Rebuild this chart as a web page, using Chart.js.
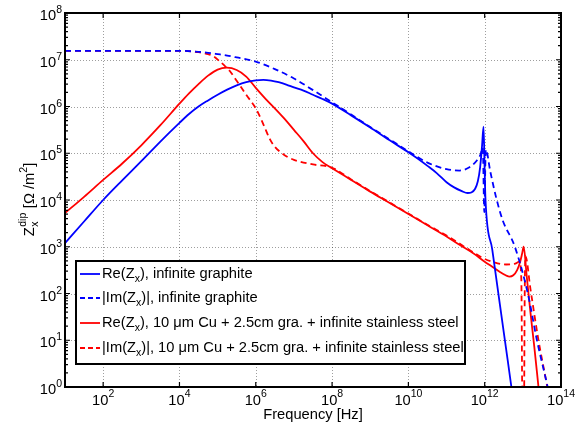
<!DOCTYPE html>
<html><head><meta charset="utf-8">
<script src="https://cdn.jsdelivr.net/npm/chart.js@4.4.1/dist/chart.umd.min.js"></script>
<style>html,body{margin:0;padding:0;background:#fff;}#wrap{width:577px;height:426px;}</style>
</head><body><div id="wrap"><canvas id="c" width="577" height="426"></canvas></div>
<script>
// ---- data (frequency in Hz, impedance in Ohm/m^2) ----
const reGraphiteF = [1e1,3.16e1,1e2,3.16e2,1e3,3.16e3,1e4,1.78e4,3.16e4,5.62e4,1e5,1.78e5,3.16e5,5.62e5,1e6,1.58e6,2.51e6,3.98e6,6.31e6,1e7,1.78e7,3.16e7,5.62e7,1e8,3.16e8,1e9,3.16e9,1e10,1.78e10,3.16e10,5.62e10,1e11,1.58e11,2.51e11,3.55e11,4.47e11,5.62e11,6.61e11,7.59e11,8.51e11,9.33e11,1e12,1.05e12,1.58e12,2.51e12,3.98e12,5.01e12,6.31e12];
const reGraphiteZ = [1.2e3,3.47e3,1e4,2.63e4,6.76e4,1.78e5,4.47e5,6.92e5,1e6,1.35e6,1.78e6,2.29e6,2.82e6,3.31e6,3.63e6,3.72e6,3.59e6,3.31e6,2.95e6,2.57e6,2.19e6,1.78e6,1.45e6,1.15e6,6.46e5,3.55e5,1.91e5,1.05e5,7.59e4,5.37e4,3.72e4,2.4e4,1.86e4,1.55e4,1.41e4,1.45e4,1.74e4,2.51e4,5.01e4,1.41e5,3.72e5,3.98e4,1e4,8.7e2,57,3.9,1,0.25];

const imGraphiteF = [1e1,1e4,3.16e4,5.62e4,1e5,1.78e5,3.16e5,1e6,3.16e6,1e7,3.16e7,1e8,3.16e8,1e9,3.16e9,1e10,3.16e10,1e11,2.19e11,3.98e11,6.31e11,7.76e11,8.91e11,9.77e11,1.07e12,1.41e12,2e12,2.95e12,6.17e12,1.35e13,2.34e13,4.47e13,5.62e13];
const imGraphiteZ = [1.55e7,1.55e7,1.48e7,1.41e7,1.32e7,1.23e7,1.12e7,9.12e6,6.31e6,3.98e6,2.24e6,1.23e6,6.76e5,3.63e5,2e5,1.1e5,6.31e4,4.57e4,4.27e4,5.01e4,7.08e4,9.33e4,1.32e5,5.5e3,1.2e5,3.98e4,1.12e4,3.72e3,1e3,1e2,10,1,0.4];

const reMultiF = [1e1,3.16e1,1e2,3.16e2,1e3,3.16e3,1e4,1.78e4,3.16e4,5.62e4,1e5,1.74e5,3.16e5,5.62e5,1e6,1.78e6,3.16e6,5.62e6,1e7,1.78e7,3.16e7,5.62e7,1e8,3.16e8,1e9,3.16e9,1e10,3.16e10,1e11,2.19e11,5.01e11,1e12,1.58e12,2.51e12,3.55e12,4.47e12,5.62e12,7.08e12,8.51e12,9.55e12,1.05e13,1.26e13,1.58e13,2e13,2.57e13,3.16e13];
const reMultiZ = [5.25e3,1.17e4,2.69e4,6.03e4,1.48e5,3.98e5,1.15e6,1.91e6,3.02e6,4.57e6,6.17e6,6.76e6,6.03e6,4.37e6,2.51e6,1.48e6,9.12e5,5.5e5,3.16e5,1.82e5,1e5,6.46e4,4.79e4,2.69e4,1.51e4,8.71e3,5.01e3,2.88e3,1.66e3,1.1e3,7.24e2,4.79e2,3.72e2,2.88e2,2.45e2,2.29e2,2.45e2,3.16e2,4.79e2,7.08e2,1e3,2.4e2,39.8,7.1,1,0.2];

const imMultiF = [1e1,1e4,3.16e4,5.62e4,7.94e4,1.12e5,1.58e5,2.09e5,3.16e5,5.62e5,1e6,1.58e6,2.34e6,3.16e6,4.47e6,6.46e6,1e7,1.45e7,3.16e7,1e8,3.16e8,1e9,3.16e9,1e10,3.16e10,1e11,2.19e11,3.98e11,1e12,1.58e12,3.63e12,6.31e12,8.13e12,9.12e12,9.77e12,1.07e13,1.12e13,1.17e13,1.58e13,2.51e13,4.37e13,5.62e13];
const imMultiZ = [1.55e7,1.55e7,1.45e7,1.32e7,1.17e7,9.33e6,7.24e6,5.75e6,3.55e6,1.78e6,9.12e5,4.17e5,2e5,1.38e5,1.05e5,8.51e4,7.24e4,6.61e4,5.75e4,4.9e4,2.75e4,1.55e4,8.91e3,5.13e3,2.95e3,1.74e3,1.17e3,8.51e2,5.5e2,4.79e2,4.17e2,4.37e2,4.79e2,2e2,0.32,0.32,1e2,6.31e2,1.26e2,11.2,1,0.32];

const xTickValues = [1e2,1e4,1e6,1e8,1e10,1e12,1e14];
const xTickLabels = ['2','4','6','8','10','12','14'];
const yTickValues = [1e0,1e1,1e2,1e3,1e4,1e5,1e6,1e7,1e8];
const yTickLabels = ['0','1','2','3','4','5','6','7','8'];

const seriesNames = [
  [{t:'Re(Z'},{t:'x',sub:true},{t:'), infinite graphite'}],
  [{t:'|Im(Z'},{t:'x',sub:true},{t:')|, infinite graphite'}],
  [{t:'Re(Z'},{t:'x',sub:true},{t:'), 10 \u03bcm Cu + 2.5cm gra. + infinite stainless steel'}],
  [{t:'|Im(Z'},{t:'x',sub:true},{t:')|, 10 \u03bcm Cu + 2.5cm gra. + infinite stainless steel'}]
];

const BLUE = '#0000ff', RED = '#ff0000';
const FONT = '"Liberation Sans", Arial, Helvetica, sans-serif';
const BIG = 14.7, SMALL = 10.5;
const DASH = [6,4];

function pts(fs, zs){ return fs.map((f,i)=>({x:f,y:zs[i]})); }

function drawRich(ctx, segs, x, y){
  let cx=x;
  for(const s of segs){
    const sz=(s.sub||s.sup)?SMALL:BIG;
    ctx.font = sz+'px '+FONT;
    const dy = s.sub?4:(s.sup?-7:0);
    ctx.fillText(s.t, cx, y+dy);
    cx += ctx.measureText(s.t).width;
  }
}

const decor = {
  id:'decor',
  beforeDatasetsDraw(chart){
    const {ctx, chartArea:a, scales:{x, y}} = chart;
    ctx.save();
    ctx.strokeStyle='rgba(0,0,0,0.38)'; ctx.lineWidth=1; ctx.setLineDash([1,2]);
    for(const v of xTickValues){ const px=Math.round(x.getPixelForValue(v))+0.5; if(px>a.right-2) continue;
      ctx.beginPath(); ctx.moveTo(px,a.top); ctx.lineTo(px,a.bottom); ctx.stroke(); }
    for(const v of yTickValues){ const py=Math.round(y.getPixelForValue(v))+0.5; if(py<a.top+2||py>a.bottom-2) continue;
      ctx.beginPath(); ctx.moveTo(a.left,py); ctx.lineTo(a.right,py); ctx.stroke(); }
    ctx.restore();
  },
  afterDatasetsDraw(chart){
    const {ctx, chartArea:a, scales:{x, y}} = chart;
    ctx.save();
    ctx.setLineDash([]);
    ctx.strokeStyle='#000'; ctx.fillStyle='#000';
    ctx.lineWidth=1.2;
    for(const v of xTickValues){ const px=x.getPixelForValue(v);
      ctx.beginPath(); ctx.moveTo(px,a.bottom); ctx.lineTo(px,a.bottom-5);
      ctx.moveTo(px,a.top); ctx.lineTo(px,a.top+5); ctx.stroke(); }
    for(let i=0;i<yTickValues.length;i++){ const v=yTickValues[i]; const py=y.getPixelForValue(v);
      ctx.beginPath(); ctx.moveTo(a.left,py); ctx.lineTo(a.left+5,py); ctx.moveTo(a.right,py); ctx.lineTo(a.right-5,py); ctx.stroke();
      if(i<yTickValues.length-1){
        for(let k=2;k<=9;k++){ const pm=y.getPixelForValue(v*k);
          ctx.beginPath(); ctx.moveTo(a.left,pm); ctx.lineTo(a.left+3,pm); ctx.moveTo(a.right,pm); ctx.lineTo(a.right-3,pm); ctx.stroke(); }
      }
    }
    ctx.lineWidth=2;
    ctx.strokeRect(a.left, a.top, a.right-a.left, a.bottom-a.top);
    // tick labels
    ctx.textBaseline='alphabetic'; ctx.textAlign='left';
    for(let i=0;i<xTickValues.length;i++){
      const px=x.getPixelForValue(xTickValues[i]);
      ctx.font=BIG+'px '+FONT; const w1=ctx.measureText('10').width;
      ctx.font=SMALL+'px '+FONT; const w2=ctx.measureText(xTickLabels[i]).width;
      const x0=px-(w1+w2)/2;
      ctx.font=BIG+'px '+FONT; ctx.fillText('10', x0, a.bottom+18);
      ctx.font=SMALL+'px '+FONT; ctx.fillText(xTickLabels[i], x0+w1, a.bottom+10);
    }
    for(let i=0;i<yTickValues.length;i++){
      const py=y.getPixelForValue(yTickValues[i]);
      ctx.font=BIG+'px '+FONT; const w1=ctx.measureText('10').width;
      ctx.font=SMALL+'px '+FONT; const w2=ctx.measureText(yTickLabels[i]).width;
      const x0=a.left-3-(w1+w2);
      ctx.font=BIG+'px '+FONT; ctx.fillText('10', x0, py+7);
      ctx.font=SMALL+'px '+FONT; ctx.fillText(yTickLabels[i], x0+w1, py);
    }
    // x title
    ctx.font=BIG+'px '+FONT; ctx.textAlign='center';
    ctx.fillText('Frequency [Hz]', (a.left+a.right)/2, a.bottom+32);
    // y title (rotated)
    ctx.textAlign='left';
    ctx.save();
    ctx.translate(33.5, (a.top+a.bottom)/2);
    ctx.rotate(-Math.PI/2);
    ctx.font=BIG+'px '+FONT; const wZ=ctx.measureText('Z').width;
    ctx.font=SMALL+'px '+FONT; const wSub=Math.max(ctx.measureText('x').width, ctx.measureText('dip').width);
    ctx.font=BIG+'px '+FONT; const wRest=ctx.measureText(' [\u03a9 /m').width, wB=ctx.measureText(']').width;
    ctx.font=SMALL+'px '+FONT; const w2=ctx.measureText('2').width;
    const tot=wZ+wSub+wRest+w2+wB;
    let cx=-tot/2;
    ctx.font=BIG+'px '+FONT; ctx.fillText('Z', cx, 0); cx+=wZ;
    ctx.font=SMALL+'px '+FONT; ctx.fillText('x', cx+0.5, 4); ctx.fillText('dip', cx+0.5, -8); cx+=wSub+1;
    ctx.font=BIG+'px '+FONT; ctx.fillText(' [\u03a9 /m', cx, 0); cx+=wRest;
    ctx.font=SMALL+'px '+FONT; ctx.fillText('2', cx, -7); cx+=w2;
    ctx.font=BIG+'px '+FONT; ctx.fillText(']', cx, 0);
    ctx.restore();
    // legend
    const L=76, T=261, R=465, B=364;
    ctx.fillStyle='#fff'; ctx.fillRect(L,T,R-L,B-T);
    ctx.lineWidth=2; ctx.strokeStyle='#000'; ctx.strokeRect(L,T,R-L,B-T);
    const cols=[BLUE,BLUE,RED,RED], dashed=[false,true,false,true];
    const bases=[278,302,327,352];
    for(let i=0;i<4;i++){
      ctx.strokeStyle=cols[i]; ctx.lineWidth=1.8; ctx.setLineDash(dashed[i]?[5,3]:[]);
      ctx.beginPath(); ctx.moveTo(80,bases[i]-4); ctx.lineTo(100,bases[i]-4); ctx.stroke();
      ctx.setLineDash([]);
      ctx.fillStyle='#000';
      drawRich(ctx, seriesNames[i], 102, bases[i]);
    }
    ctx.restore();
  }
};

const ds = (label, fs, zs, color, dashed) => ({
  label, data: pts(fs, zs), borderColor: color, backgroundColor: color,
  borderWidth: 1.8, borderDash: dashed?DASH:[], pointRadius: 0, showLine: true,
  cubicInterpolationMode: 'monotone', fill: false, borderJoinStyle: 'round'
});

new Chart(document.getElementById('c'), {
  type: 'scatter',
  data: { datasets: [
    ds('Re(Zx), infinite graphite', reGraphiteF, reGraphiteZ, BLUE, false),
    ds('|Im(Zx)|, infinite graphite', imGraphiteF, imGraphiteZ, BLUE, true),
    ds('Re(Zx), 10 um Cu + 2.5cm gra. + infinite stainless steel', reMultiF, reMultiZ, RED, false),
    ds('|Im(Zx)|, 10 um Cu + 2.5cm gra. + infinite stainless steel', imMultiF, imMultiZ, RED, true)
  ]},
  options: {
    responsive: false, animation: false, devicePixelRatio: 1,
    layout: { padding: { left: 65, right: 16, top: 13, bottom: 39 } },
    plugins: { legend: { display: false }, tooltip: { enabled: false } },
    scales: {
      x: { type: 'logarithmic', min: 1e1, max: 1e14, display: false },
      y: { type: 'logarithmic', min: 1e0, max: 1e8, display: false }
    }
  },
  plugins: [decor]
});
</script>
</body></html>
